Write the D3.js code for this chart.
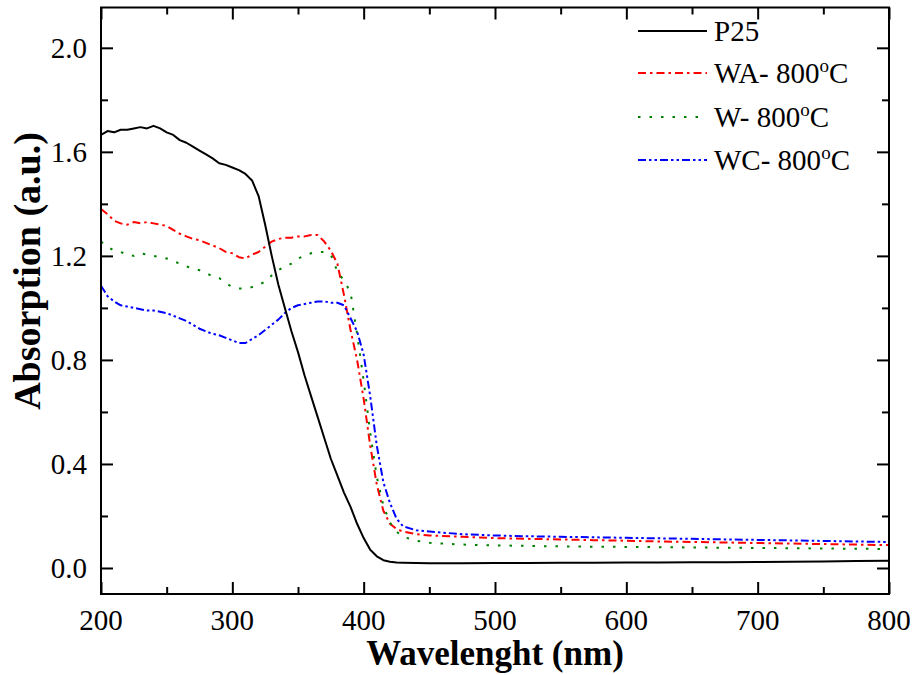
<html>
  <head>
    <title>Absorption spectra</title>
    <script type="text/javascript" src="https://cdn.jsdelivr.net/npm/d3@7"></script>
    <style type="text/css">

body {
  margin: 0;
  background: #fff;
}

svg {
  font-family: "Liberation Serif", "Times New Roman", serif;
}

.frame {
  fill: none;
  stroke: #000;
  stroke-width: 2px;
}

.tick line {
  stroke: #000;
  stroke-width: 2px;
}

.curve {
  fill: none;
  stroke-width: 2px;
  stroke-linejoin: round;
}

    </style>
  </head>
  <body>
    <script type="text/javascript">

var wavelength = [200,205,210,215,220,225,230,235,240,245,250,255,260,265,270,275,280,285,290,295,
  300,305,310,315,320,325,330,335,340,345,350,355,360,365,370,375,380,385,390,395,
  400,405,410,415,420,425,430,440,450,475,500,525,550,575,600,625,650,675,700,725,750,775,800];

var p25 = [1.665,1.68,1.675,1.685,1.685,1.69,1.695,1.69,1.70,1.69,1.675,1.665,1.645,1.635,1.62,1.605,1.59,1.575,1.556,1.55,
  1.54,1.53,1.515,1.49,1.43,1.32,1.20,1.09,1.00,0.91,0.83,0.74,0.66,0.58,0.50,0.42,0.355,0.29,0.235,0.17,
  0.115,0.07,0.045,0.03,0.024,0.021,0.02,0.019,0.018,0.018,0.019,0.019,0.02,0.02,0.021,0.021,0.022,0.022,0.023,0.024,0.025,0.027,0.028];

var wa800 = [1.38,1.36,1.335,1.325,1.32,1.33,1.325,1.33,1.325,1.32,1.315,1.30,1.285,1.275,1.265,1.26,1.25,1.24,1.23,1.215,
  1.21,1.195,1.19,1.205,1.215,1.235,1.255,1.265,1.27,1.27,1.275,1.275,1.28,1.28,1.255,1.22,1.17,1.05,0.915,0.80,
  0.65,0.47,0.32,0.22,0.17,0.15,0.14,0.13,0.125,0.12,0.115,0.112,0.11,0.107,0.105,0.102,0.10,0.098,0.096,0.094,0.092,0.09,0.088];

var w800 = [1.255,1.235,1.22,1.215,1.205,1.20,1.21,1.205,1.20,1.195,1.19,1.18,1.17,1.16,1.15,1.145,1.135,1.12,1.115,1.095,
  1.08,1.075,1.075,1.08,1.09,1.10,1.125,1.145,1.16,1.17,1.19,1.20,1.21,1.215,1.215,1.205,1.14,1.105,1.06,0.90,
  0.72,0.52,0.35,0.24,0.175,0.14,0.12,0.105,0.097,0.09,0.087,0.085,0.083,0.082,0.081,0.08,0.079,0.078,0.077,0.076,0.075,0.074,0.073];

var wc800 = [1.085,1.045,1.025,1.01,1.005,1.0,0.995,0.99,0.99,0.985,0.98,0.97,0.96,0.95,0.935,0.92,0.91,0.90,0.895,0.885,
  0.875,0.865,0.865,0.88,0.895,0.915,0.935,0.955,0.98,1.0,1.01,1.015,1.02,1.025,1.025,1.02,1.02,1.01,0.96,0.91,
  0.82,0.66,0.47,0.33,0.25,0.19,0.16,0.145,0.14,0.13,0.125,0.122,0.12,0.118,0.116,0.114,0.112,0.11,0.108,0.106,0.104,0.102,0.10];

var seriesNames = ["P25", "WA- 800", "W- 800", "WC- 800"];
var seriesValues = [p25, wa800, w800, wc800];
var seriesColors = ["#000000", "#ff0000", "#008000", "#0000ff"];
var seriesDash = [null, "8,4,2.5,4", "2.5,9", "8,3,2.5,3,2.5,3"];
var seriesWidth = [2.5, 2, 2, 2];

var xTicks = [200, 300, 400, 500, 600, 700, 800];
var yTicks = [0.0, 0.4, 0.8, 1.2, 1.6, 2.0];

var w = 918,
    h = 675,
    pl = 101,
    pr = 889,
    pt = 7.5,
    pb = 594;

var x = d3.scaleLinear().domain([200, 800]).range([pl, pr]);
var y = d3.scaleLinear().domain([-0.1, 2.155]).range([pb, pt]);

var svg = d3.select("body")
  .append("svg")
    .attr("width", w)
    .attr("height", h);

// minor + major ticks, drawn inward on all four sides
var xMinor = d3.range(250, 800, 100);
var yMinor = [0.2, 0.6, 1.0, 1.4, 1.8];

function ticks(axisFn, scale, values, size, tr) {
  svg.append("g")
    .attr("transform", tr)
    .call(axisFn(scale).tickValues(values).tickSize(size).tickFormat(""))
    .call(function(g) { g.select(".domain").remove(); });
}

ticks(d3.axisBottom, x, xTicks, -12, "translate(0," + pb + ")");
ticks(d3.axisBottom, x, xMinor, -7, "translate(0," + pb + ")");
ticks(d3.axisTop, x, xTicks, -12, "translate(0," + pt + ")");
ticks(d3.axisTop, x, xMinor, -7, "translate(0," + pt + ")");
ticks(d3.axisLeft, y, yTicks, -12, "translate(" + pl + ",0)");
ticks(d3.axisLeft, y, yMinor, -7, "translate(" + pl + ",0)");
ticks(d3.axisRight, y, yTicks, -12, "translate(" + pr + ",0)");
ticks(d3.axisRight, y, yMinor, -7, "translate(" + pr + ",0)");

svg.selectAll("text.xlab")
    .data(xTicks)
  .enter().append("text")
    .attr("class", "xlab")
    .attr("x", function(d) { return x(d); })
    .attr("y", 630)
    .attr("text-anchor", "middle")
    .attr("font-size", 29)
    .text(function(d) { return d; });

svg.selectAll("text.ylab")
    .data(yTicks)
  .enter().append("text")
    .attr("class", "ylab")
    .attr("x", 87)
    .attr("y", function(d) { return y(d); })
    .attr("dy", ".35em")
    .attr("text-anchor", "end")
    .attr("font-size", 29)
    .text(function(d) { return d.toFixed(1); });

svg.append("text")
    .attr("x", (pl + pr) / 2)
    .attr("y", 665)
    .attr("text-anchor", "middle")
    .attr("font-size", 35)
    .attr("font-weight", "bold")
    .text("Wavelenght (nm)");

svg.append("text")
    .attr("transform", "translate(40,271) rotate(-90)")
    .attr("text-anchor", "middle")
    .attr("font-size", 38)
    .attr("font-weight", "bold")
    .text("Absorption (a.u.)");

var line = d3.line()
    .x(function(d, i) { return x(wavelength[i]); })
    .y(function(d) { return y(d); });

// draw the plain curve last so it sits on top
[1, 2, 3, 0].forEach(function(k) {
  svg.append("path")
    .attr("class", "curve")
    .attr("d", line(seriesValues[k]))
    .attr("stroke", seriesColors[k])
    .attr("stroke-width", seriesWidth[k])
    .attr("stroke-dasharray", seriesDash[k]);
});

svg.append("rect")
    .attr("class", "frame")
    .attr("x", pl)
    .attr("y", pt)
    .attr("width", pr - pl)
    .attr("height", pb - pt);

var legendY = [31, 73, 117, 160];

var legend = svg.selectAll("g.legend")
    .data(seriesNames)
  .enter().append("g")
    .attr("class", "legend")
    .attr("transform", function(d, i) { return "translate(638," + legendY[i] + ")"; });

legend.append("line")
    .attr("x1", 0)
    .attr("x2", 69)
    .attr("stroke-width", 2)
    .attr("stroke", function(d, i) { return seriesColors[i]; })
    .attr("stroke-dasharray", function(d, i) { return seriesDash[i]; });

var lt = legend.append("text")
    .attr("x", 76)
    .attr("dy", ".35em")
    .attr("font-size", 29)
    .text(function(d) { return d; });

lt.filter(function(d, i) { return i > 0; })
  .append("tspan")
    .attr("dy", -11)
    .attr("font-size", 19)
    .text("o");

lt.filter(function(d, i) { return i > 0; })
  .append("tspan")
    .attr("dy", 11)
    .text("C");

    </script>
  </body>
</html>
